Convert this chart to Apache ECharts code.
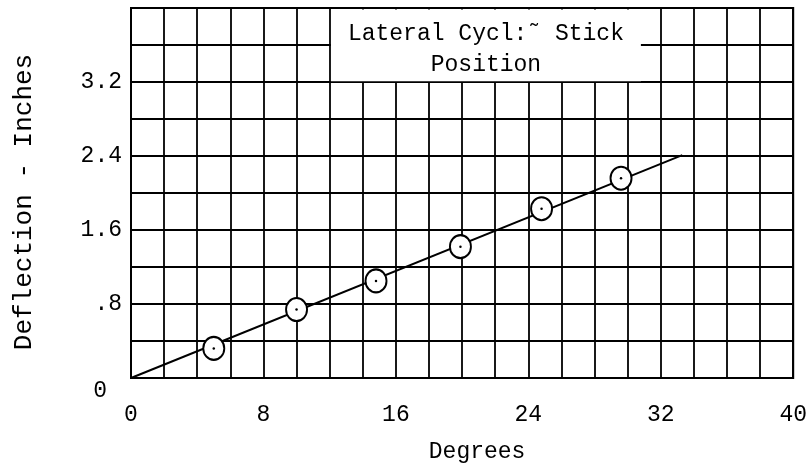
<!DOCTYPE html>
<html>
<head>
<meta charset="utf-8">
<script src="https://cdn.jsdelivr.net/npm/echarts@6/dist/echarts.min.js"></script>
<style>
  html, body { margin: 0; padding: 0; background: #fff; }
  #chart { width: 810px; height: 475px; }
</style>
</head>
<body>
<div id="chart"></div>
<script>
// measured points: degrees vs deflection (inches)
const degrees = [5.0, 10.0, 14.8, 19.9, 24.8, 29.6];
const deflection = [0.32, 0.74, 1.05, 1.42, 1.83, 2.16];
// faired line through origin
const fitDegrees = [0, 33.3];
const fitDeflection = [0, 2.41];

const xTickValues = [0, 8, 16, 24, 32, 40];
const xTickLabels = ['0', '8', '16', '24', '32', '40'];
const yTickValues = [0, 0.8, 1.6, 2.4, 3.2];
const yTickLabels = ['0', '.8', '1.6', '2.4', '3.2'];

const titleLines = ['Lateral Cycl:˜ Stick', 'Position'];

const FONT = 'Liberation Mono';
const INK = '#000';

function lookup(values, labels, v) {
  for (let i = 0; i < values.length; i++) {
    if (Math.abs(values[i] - v) < 1e-6) return labels[i];
  }
  return '';
}

const chart = echarts.init(document.getElementById('chart'), null, { renderer: 'canvas' });

const option = {
  animation: false,
  backgroundColor: '#fff',
  textStyle: { fontFamily: FONT, color: INK },
  grid: {
    left: 131, right: 11, top: 8, bottom: 97,
    show: true, borderColor: INK, borderWidth: 2, backgroundColor: '#fff'
  },
  xAxis: {
    type: 'value', min: 0, max: 40, interval: 2,
    name: 'Degrees', nameLocation: 'middle', nameGap: 62,
    nameTextStyle: { fontFamily: FONT, fontSize: 23, color: INK, padding: [0, 0, 0, 30] },
    axisLine: { show: false }, axisTick: { show: false },
    splitLine: { show: true, lineStyle: { color: INK, width: 1.8 } },
    axisLabel: {
      fontFamily: FONT, fontSize: 23, color: INK, margin: 25,
      formatter: v => lookup(xTickValues, xTickLabels, v)
    }
  },
  yAxis: {
    type: 'value', min: 0, max: 4, interval: 0.4,
    name: 'Deflection - Inches', nameLocation: 'middle', nameGap: 94,
    nameTextStyle: { fontFamily: FONT, fontSize: 26, color: INK, padding: [0, 18, 0, 0] },
    axisLine: { show: false }, axisTick: { show: false },
    splitLine: { show: true, lineStyle: { color: INK, width: 1.8 } },
    axisLabel: {
      fontFamily: FONT, fontSize: 23, color: INK, margin: 9,
      formatter: v => {
        const s = lookup(yTickValues, yTickLabels, v);
        return v === 0 ? '{z|' + s + '}' : s;
      },
      rich: { z: { fontFamily: FONT, fontSize: 23, color: INK, padding: [26, 15, 0, 0] } }
    }
  },
  series: [
    {
      type: 'line',
      data: fitDegrees.map((d, i) => [d, fitDeflection[i]]),
      showSymbol: false,
      lineStyle: { color: INK, width: 2 },
      z: 2,
      markArea: {
        silent: true,
        itemStyle: { color: '#fff', borderWidth: 0 },
        label: {
          show: true, position: 'inside', fontFamily: FONT, fontSize: 23,
          color: INK, lineHeight: 31, align: 'center', offset: [0, 4]
        },
        data: [[
          { name: titleLines.join('\n'), coord: [12.08, 3.985] },
          { coord: [30.8, 3.208] }
        ]]
      }
    },
    {
      type: 'scatter',
      data: degrees.map((d, i) => [d, deflection[i]]),
      symbol: 'circle',
      symbolSize: [21, 23],
      itemStyle: { color: '#fff', borderColor: INK, borderWidth: 2, opacity: 1 },
      z: 3
    },
    {
      type: 'scatter',
      data: degrees.map((d, i) => [d, deflection[i]]),
      symbol: 'circle',
      symbolSize: 2.5,
      itemStyle: { color: INK, opacity: 1 },
      z: 4
    }
  ]
};

chart.setOption(option);
</script>
</body>
</html>
